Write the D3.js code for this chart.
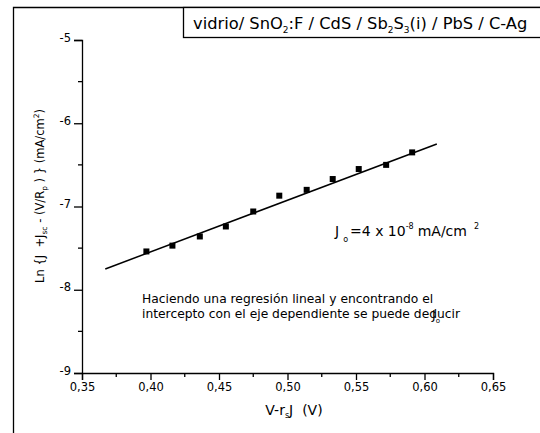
<!DOCTYPE html>
<html>
<head>
<meta charset="utf-8">
<script src="https://cdn.jsdelivr.net/npm/d3@7"></script>
<style>
  body { margin: 0; background: #fff; }
  text { font-family: "DejaVu Sans", Verdana, sans-serif; fill: #000; }
</style>
</head>
<body>
<div id="chart"></div>
<script>
// measured points (V - rs J , ln{...})
var voltage = [0.397, 0.416, 0.436, 0.455, 0.475, 0.494, 0.514, 0.533, 0.552, 0.572, 0.591];
var lnCurrent = [-7.54, -7.47, -7.36, -7.24, -7.06, -6.87, -6.80, -6.67, -6.55, -6.50, -6.35];
// linear fit endpoints
var fitX = [0.367, 0.609];
var fitY = [-7.75, -6.25];
var xTicks = [0.35, 0.40, 0.45, 0.50, 0.55, 0.60, 0.65];
var yTicks = [-9, -8, -7, -6, -5];

var W = 540, H = 433;
var svg = d3.select("#chart").append("svg")
  .attr("width", W).attr("height", H);

var x = d3.scaleLinear().domain([0.35, 0.65]).range([82, 493]);
var y = d3.scaleLinear().domain([-9, -5]).range([373, 40]);

// outer frame
svg.append("path")
  .attr("d", "M13.5," + H + "V7.5H" + W)
  .attr("fill", "none").attr("stroke", "#000").attr("stroke-width", 1.3);

// title box
svg.append("rect")
  .attr("x", 183.5).attr("y", 7.5).attr("width", 400).attr("height", 30)
  .attr("fill", "#fff").attr("stroke", "#000").attr("stroke-width", 1.3);

var title = svg.append("text").attr("x", 193).attr("y", 29).attr("font-size", 16.3);
title.append("tspan").text("vidrio/ SnO");
title.append("tspan").attr("font-size", 9).attr("dy", 4).text("2");
title.append("tspan").attr("dy", -4).text(":F / CdS / Sb");
title.append("tspan").attr("font-size", 9).attr("dy", 4).text("2");
title.append("tspan").attr("dy", -4).text("S");
title.append("tspan").attr("font-size", 9).attr("dy", 4).text("3");
title.append("tspan").attr("dy", -4).text("(i) / PbS / C-Ag");

// axes
var fmtX = function(d) { return d.toFixed(2).replace(".", ","); };
var fmtY = function(d) { return String(d); };
var xAxis = d3.axisBottom(x).tickValues(xTicks).tickFormat(fmtX).tickSize(7).tickPadding(3);
var yAxis = d3.axisLeft(y).tickValues(yTicks).tickFormat(fmtY).tickSize(8).tickPadding(3);

var gx = svg.append("g").attr("transform", "translate(0," + y(-9) + ")").call(xAxis);
var gy = svg.append("g").attr("transform", "translate(" + x(0.35) + ",0)").call(yAxis);

[gx, gy].forEach(function(g) {
  g.select(".domain").attr("stroke-width", 1.3);
  g.selectAll(".tick line").attr("stroke-width", 1.3);
  g.selectAll("text").attr("font-size", 11.5).attr("font-family", "DejaVu Sans, sans-serif").attr("fill", "#000");
});
gy.selectAll(".tick text").attr("dy", "0.1em");

// minor ticks
var xMinor = [0.375, 0.425, 0.475, 0.525, 0.575, 0.625];
var yMinor = [-8.5, -7.5, -6.5, -5.5];
svg.selectAll(".xminor").data(xMinor).enter().append("line")
  .attr("x1", function(d) { return x(d); }).attr("x2", function(d) { return x(d); })
  .attr("y1", y(-9)).attr("y2", y(-9) + 4)
  .attr("stroke", "#000").attr("stroke-width", 1.3);
svg.selectAll(".yminor").data(yMinor).enter().append("line")
  .attr("x1", x(0.35) - 4).attr("x2", x(0.35))
  .attr("y1", function(d) { return y(d); }).attr("y2", function(d) { return y(d); })
  .attr("stroke", "#000").attr("stroke-width", 1.3);

// fit line
var line = d3.line().x(function(d) { return x(d[0]); }).y(function(d) { return y(d[1]); });
svg.append("path")
  .datum(d3.zip(fitX, fitY))
  .attr("d", line)
  .attr("fill", "none").attr("stroke", "#000").attr("stroke-width", 1.5);

// points
svg.selectAll(".pt").data(d3.zip(voltage, lnCurrent)).enter().append("rect")
  .attr("x", function(d) { return x(d[0]) - 3; })
  .attr("y", function(d) { return y(d[1]) - 3; })
  .attr("width", 6).attr("height", 6).attr("fill", "#000");

// axis titles
var xt = svg.append("text").attr("x", 294).attr("y", 415).attr("text-anchor", "middle").attr("font-size", 14);
xt.append("tspan").text("V-r");
xt.append("tspan").attr("font-size", 8).attr("dy", 3).text("s");
xt.append("tspan").attr("dy", -3).text("J\u00a0\u00a0(V)");

var yt = svg.append("text").attr("transform", "translate(44,196) rotate(-90)")
  .attr("text-anchor", "middle").attr("font-size", 11.5);
yt.append("tspan").text("Ln {J\u00a0\u00a0+J");
yt.append("tspan").attr("font-size", 7.5).attr("dy", 3).text("sc");
yt.append("tspan").attr("dy", -3).text(" - (V/R");
yt.append("tspan").attr("font-size", 7.5).attr("dy", 3).text("p");
yt.append("tspan").attr("dy", -3).text("\u00a0) } (mA/cm");
yt.append("tspan").attr("font-size", 7.5).attr("dy", -5).text("2");
yt.append("tspan").attr("dy", 5).text(")");

// annotation J_o
var ann = svg.append("text").attr("x", 335).attr("y", 236).attr("font-size", 14);
ann.append("tspan").text("J");
ann.append("tspan").attr("font-size", 8).attr("dx", 4).attr("dy", 6).text("o");
ann.append("tspan").attr("dx", 2).attr("dy", -6).text("=4 x 10");
ann.append("tspan").attr("font-size", 8).attr("dy", -7).text("-8");
ann.append("tspan").attr("dx", 4).attr("dy", 7).text("mA/cm");
ann.append("tspan").attr("font-size", 8).attr("dx", 7).attr("dy", -7).text("2");

// note text (the J_o overlaps "deducir" as in the original)
svg.append("text").attr("x", 142).attr("y", 303).attr("font-size", 12.3)
  .text("Haciendo una regresión lineal y encontrando el");
svg.append("text").attr("x", 142).attr("y", 318).attr("font-size", 12.3)
  .text("intercepto con el eje dependiente se puede deducir");
var jo = svg.append("text").attr("x", 432).attr("y", 319).attr("font-size", 12.3);
jo.append("tspan").text("J");
jo.append("tspan").attr("font-size", 7).attr("dy", 4).text("o");
</script>
</body>
</html>
